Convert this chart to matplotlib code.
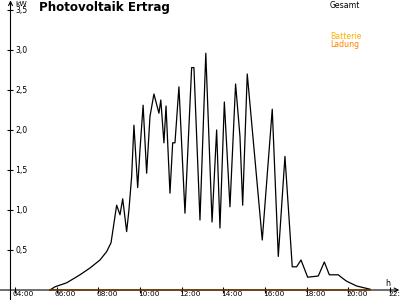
import matplotlib
matplotlib.use("Agg")
import matplotlib.pyplot as plt
from matplotlib.transforms import offset_copy, blended_transform_factory

# ---- data ----
hours = [5.68, 5.92, 6.48, 7.12, 7.60, 8.08, 8.40, 8.61, 8.88, 9.04, 9.17, 9.36,
         9.47, 9.60, 9.71, 9.89, 10.00, 10.15, 10.32, 10.48, 10.67, 10.91, 11.00,
         11.15, 11.25, 11.44, 11.57, 11.68, 11.87, 12.16, 12.48, 12.59, 12.88,
         13.16, 13.46, 13.68, 13.84, 14.05, 14.32, 14.59, 14.80, 14.93, 15.15,
         15.87, 16.35, 16.64, 16.96, 17.31, 17.52, 17.73, 18.05, 18.56, 18.85,
         19.09, 19.52, 19.76, 19.92, 20.40, 20.72, 21.04]
gesamt_kw = [0.0, 0.04, 0.09, 0.19, 0.275, 0.375, 0.48, 0.59, 1.06, 0.94, 1.14, 0.73,
             1.0, 1.42, 2.06, 1.28, 1.75, 2.31, 1.46, 2.17, 2.45, 2.21, 2.375,
             1.84, 2.30, 1.21, 1.84, 1.84, 2.54, 0.96, 2.78, 2.78, 0.875,
             2.96, 0.85, 2.0, 0.775, 2.35, 1.04, 2.575, 1.92, 1.06, 2.70,
             0.625, 2.26, 0.42, 1.67, 0.29, 0.29, 0.375, 0.16, 0.175, 0.35,
             0.19, 0.19, 0.14, 0.11, 0.05, 0.03, 0.01]
ladung_hours = [5.68, 21.04]
ladung_kw = [0.0, 0.0]

x_ticks = [4, 6, 8, 10, 12, 14, 16, 18, 20, 22]
x_labels = ["04:00", "06:00", "08:00", "10:00", "12:00", "14:00", "16:00",
            "18:00", "20:00", "22:00"]
y_ticks = [0.5, 1.0, 1.5, 2.0, 2.5, 3.0, 3.5]
y_labels = ["0,5", "1,0", "1,5", "2,0", "2,5", "3,0", "3,5"]

# ---- figure ----
fig = plt.figure(figsize=(4, 3), dpi=100)
ax = fig.add_axes([0, 0, 1, 1])
ax.set_xlim(3.28, 22.483)
ax.set_ylim(-0.125, 3.625)
ax.axis('off')

font = 'DejaVu Sans'
yaxis_x = 3.784

# axes with arrows
ax.annotate('', xy=(22.45, 0), xytext=(3.28, 0),
            arrowprops=dict(arrowstyle='->', color='black', lw=0.8,
                            shrinkA=0, shrinkB=0, mutation_scale=7))
ax.annotate('', xy=(yaxis_x, 3.62), xytext=(yaxis_x, -0.125),
            arrowprops=dict(arrowstyle='->', color='black', lw=0.8,
                            shrinkA=0, shrinkB=0, mutation_scale=7))

# tick marks
ax.plot(x_ticks, [0] * len(x_ticks), ls='none', marker='|', ms=5.0,
        mew=0.8, color='black')
ax.plot([yaxis_x] * len(y_ticks), y_ticks, ls='none', marker='_', ms=4.5,
        mew=0.8, color='black')

# data lines
ax.plot(hours, gesamt_kw, color='black', lw=0.9)
ax.plot(ladung_hours, ladung_kw, color='#FF8000', lw=1.1)

# tick labels
tx = offset_copy(ax.transData, fig=fig, x=-2, y=-1.5, units='dots')
for h, lab in zip(x_ticks, x_labels):
    ax.text(h, 0, lab, transform=tx, ha='left', va='top', fontsize=5.3,
            family=font, color='black')
ty = blended_transform_factory(ax.transAxes, ax.transData)
for v, lab in zip(y_ticks, y_labels):
    ax.text(15 / 400, v, lab, transform=ty, ha='left', va='center',
            fontsize=5.6, family=font, color='black')

# texts
def px(x, y, s, **kw):
    fig.text(x / 400, 1 - y / 300, s, family=font, **kw)

px(15, 1, 'kW', fontsize=5.4, ha='left', va='top')
px(39, 1.5, 'Photovoltaik Ertrag', fontsize=8.6, fontweight='bold', ha='left', va='top')
px(330, 1, 'Gesamt', fontsize=5.6, ha='left', va='top')
px(330, 32, 'Batterie', fontsize=5.6, ha='left', va='top', color='#FFB000')
px(330, 40, 'Ladung', fontsize=5.6, ha='left', va='top', color='#FF8000')
px(385, 279, 'h', fontsize=5.6, ha='left', va='top')

fig.savefig('out.png', dpi=100)
